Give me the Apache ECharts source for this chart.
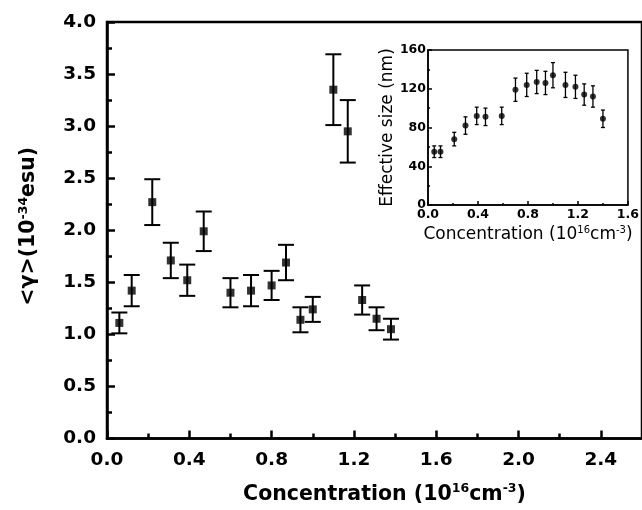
<!DOCTYPE html>
<html>
<head>
<meta charset="utf-8">
<script src="https://cdn.jsdelivr.net/npm/echarts@6/dist/echarts.min.js"></script>
<style>html,body{margin:0;padding:0;background:#fff}#c{width:642px;height:510px}</style>
</head>
<body>
<div id="c"></div>
<script>
// Main chart: hyperpolarizability vs concentration
const concMain = [0.06,0.12,0.22,0.31,0.39,0.47,0.60,0.70,0.80,0.87,0.94,1.00,1.10,1.17,1.24,1.31,1.38];
const gammaVals = [1.11,1.42,2.27,1.71,1.52,1.99,1.40,1.42,1.47,1.69,1.14,1.24,3.35,2.95,1.33,1.15,1.05];
const gammaErr = [0.10,0.15,0.22,0.17,0.15,0.19,0.14,0.15,0.14,0.17,0.12,0.12,0.34,0.30,0.14,0.11,0.10];
// Inset: effective size vs concentration
const concInset = [0.05,0.10,0.21,0.30,0.39,0.46,0.59,0.70,0.79,0.87,0.94,1.00,1.10,1.18,1.25,1.32,1.40];
const sizeVals = [55,55,68,82,92,91,92,119,124,127,126,134,124,122,114,112,89];
const sizeErr = [6,6,7,9,9,9,9,12,12,12,12,13,13,12,11,11,9];

const FONT = '"DejaVu Sans", sans-serif';
const mainData = concMain.map((x,i)=>[x,gammaVals[i],gammaErr[i]]);
const insetData = concInset.map((x,i)=>[x,sizeVals[i],sizeErr[i]]);

function errRender(cap, lw){
  return function(params, api){
    const x = api.value(0), y = api.value(1), e = api.value(2);
    const t = api.coord([x, y+e]), b = api.coord([x, y-e]);
    const h = cap/2, st = {stroke:'#000', lineWidth:lw};
    return {type:'group', children:[
      {type:'line', shape:{x1:t[0],y1:t[1],x2:b[0],y2:b[1]}, style:st},
      {type:'line', shape:{x1:t[0]-h,y1:t[1],x2:t[0]+h,y2:t[1]}, style:st},
      {type:'line', shape:{x1:b[0]-h,y1:b[1],x2:b[0]+h,y2:b[1]}, style:st}
    ]};
  };
}

const chart = echarts.init(document.getElementById('c'), null, {renderer:'canvas'});
const axisCommon = (lw, tickLen, minorLen) => ({
  axisLine:{show:true, onZero:false, lineStyle:{color:'#000', width:lw}},
  axisTick:{show:true, inside:true, length:tickLen, lineStyle:{color:'#000', width:lw}},
  minorTick:{show:true, splitNumber:2, length:minorLen, lineStyle:{color:'#000', width:lw}},
  splitLine:{show:false}
});

chart.setOption({
  animation:false,
  backgroundColor:'#fff',
  grid:[
    {left:107, top:22, right:-29, bottom:71, show:true, borderColor:'#000', borderWidth:2.5, backgroundColor:'transparent'},
    {left:428, top:50, right:14, bottom:305, show:true, borderColor:'#000', borderWidth:1.5, backgroundColor:'transparent', z:5}
  ],
  xAxis:[
    Object.assign({
      type:'value', gridIndex:0, min:0, max:2.6, interval:0.4,
      name:'Concentration (10{sup|16}cm{sup|-3})', nameLocation:'middle', nameGap:44,
      nameTextStyle:{fontFamily:FONT, fontWeight:'bold', fontSize:20.5, color:'#000', padding:[0,0,0,20],
        rich:{sup:{fontFamily:FONT, fontWeight:'bold', fontSize:12.5, verticalAlign:'top', padding:[0,0,11,0], color:'#000'}}},
      axisLabel:{fontFamily:FONT, fontWeight:'bold', fontSize:18.5, color:'#000', margin:12, showMaxLabel:false,
        formatter:v=>v.toFixed(1)}
    }, axisCommon(2.5, 8, 5)),
    Object.assign({
      type:'value', gridIndex:1, min:0, max:1.6, interval:0.4,
      name:'Concentration (10{sup|16}cm{sup|-3})', nameLocation:'middle', nameGap:20,
      nameTextStyle:{fontFamily:FONT, fontSize:17, color:'#000',
        rich:{sup:{fontFamily:FONT, fontSize:10, verticalAlign:'top', padding:[0,0,9,0], color:'#000'}}},
      axisLabel:{fontFamily:FONT, fontWeight:'bold', fontSize:12.5, color:'#000', margin:3,
        formatter:v=>v.toFixed(1)}
    }, axisCommon(1.5, 4, 2))
  ],
  yAxis:[
    Object.assign({
      type:'value', gridIndex:0, min:0, max:4, interval:0.5,
      name:'<γ>(10{sup|-34}esu)', nameLocation:'middle', nameGap:66,
      nameTextStyle:{fontFamily:FONT, fontWeight:'bold', fontSize:20.5, color:'#000', padding:[0,0,0,8],
        rich:{sup:{fontFamily:FONT, fontWeight:'bold', fontSize:12.5, verticalAlign:'top', padding:[0,0,11,0], color:'#000'}}},
      axisLabel:{fontFamily:FONT, fontWeight:'bold', fontSize:18.5, color:'#000', margin:11,
        formatter:v=>v.toFixed(1)}
    }, axisCommon(2.5, 8, 5)),
    Object.assign({
      type:'value', gridIndex:1, min:0, max:160, interval:40,
      name:'Effective size (nm)', nameLocation:'middle', nameGap:31,
      nameTextStyle:{fontFamily:FONT, fontSize:17, color:'#000'},
      axisLabel:{fontFamily:FONT, fontWeight:'bold', fontSize:12.5, color:'#000', margin:2}
    }, axisCommon(1.5, 4, 2))
  ],
  series:[
    {type:'custom', xAxisIndex:0, yAxisIndex:0, data:mainData, renderItem:errRender(16,2), z:2},
    {type:'scatter', xAxisIndex:0, yAxisIndex:0, data:mainData, symbol:'rect', symbolSize:8,
      itemStyle:{color:'#000'}, z:3},
    {type:'custom', xAxisIndex:1, yAxisIndex:1, data:insetData, renderItem:errRender(4,1.3), z:6},
    {type:'scatter', xAxisIndex:1, yAxisIndex:1, data:insetData, symbol:'circle', symbolSize:6,
      itemStyle:{color:'#000'}, z:7}
  ]
});
</script>
</body>
</html>
